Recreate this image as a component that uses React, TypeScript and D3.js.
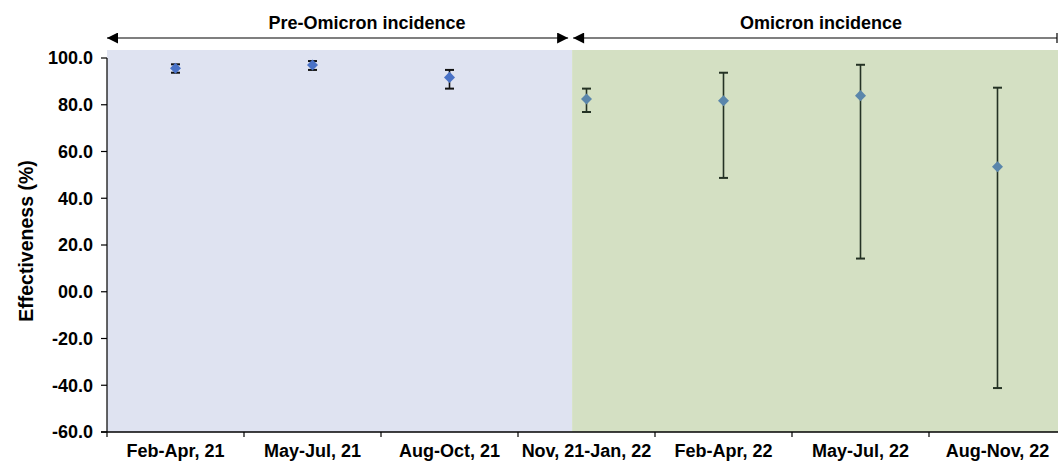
import * as d3 from "d3";
import { useEffect, useRef } from "react";

const categories = [
  "Feb-Apr, 21",
  "May-Jul, 21",
  "Aug-Oct, 21",
  "Nov, 21-Jan, 22",
  "Feb-Apr, 22",
  "May-Jul, 22",
  "Aug-Nov, 22",
];
const effectiveness = [95.6, 97.0, 91.7, 82.5, 81.7, 83.9, 53.5];
const lowerCI = [93.7, 94.9, 86.9, 76.9, 48.7, 14.2, -41.2];
const upperCI = [97.3, 98.7, 94.9, 86.9, 93.7, 97.1, 87.3];
const periods = ["Pre-Omicron", "Pre-Omicron", "Pre-Omicron", "Omicron", "Omicron", "Omicron", "Omicron"];
const yTicks = [100, 80, 60, 40, 20, 0, -20, -40, -60];
const yTickLabels = ["100.0", "80.0", "60.0", "40.0", "20.0", "00.0", "-20.0", "-40.0", "-60.0"];
const phaseNames = ["Pre-Omicron incidence", "Omicron incidence"];
const phaseBounds = [0, 3.395, 7]; // in category units
const phaseFills = ["#dfe3f1", "#d4e0c3"];

const W = 1058;
const H = 464;
const FONT = "'Liberation Sans', Arial, sans-serif";

export default function App() {
  const ref = useRef<SVGSVGElement | null>(null);

  useEffect(() => {
    if (!ref.current) return;
    const svg = d3.select(ref.current);
    svg.selectAll("*").remove();

    const left = 107;
    const right = 1066; // chart continues past the window edge
    const top = 58;
    const bottom = 432;

    const y = d3.scaleLinear().domain([-60, 100]).range([bottom, top]);
    const x = d3.scaleBand<string>().domain(categories).range([left, right]).padding(0);
    const xLin = d3.scaleLinear().domain([0, 7]).range([left, right]);

    const defs = svg.append("defs");
    defs
      .append("marker")
      .attr("id", "arrow")
      .attr("viewBox", "0 0 10 10")
      .attr("refX", 10)
      .attr("refY", 5)
      .attr("markerWidth", 14)
      .attr("markerHeight", 11)
      .attr("markerUnits", "userSpaceOnUse")
      .attr("orient", "auto-start-reverse")
      .append("path")
      .attr("d", "M0,0L10,5L0,10Z")
      .attr("fill", "#000");

    // shaded phases
    svg
      .append("g")
      .selectAll("rect")
      .data(phaseNames)
      .enter()
      .append("rect")
      .attr("x", (_, i) => xLin(phaseBounds[i]))
      .attr("y", 50)
      .attr("width", (_, i) => xLin(phaseBounds[i + 1]) - xLin(phaseBounds[i]))
      .attr("height", bottom - 50)
      .attr("fill", (_, i) => phaseFills[i]);

    // phase arrows and labels
    const arrowY = 38;
    const phaseG = svg.append("g");
    phaseNames.forEach((name, i) => {
      const x0 = xLin(phaseBounds[i]);
      const x1 = Math.min(xLin(phaseBounds[i + 1]), W - 1);
      const line = phaseG
        .append("line")
        .attr("x1", i === 0 ? x0 : x0 + 1)
        .attr("x2", i === 0 ? x1 - 4 : x1)
        .attr("y1", arrowY)
        .attr("y2", arrowY)
        .attr("stroke", "#000")
        .attr("stroke-width", 1.2)
        .attr("marker-start", "url(#arrow)");
      if (i === 0) line.attr("marker-end", "url(#arrow)");
      else
        phaseG
          .append("line")
          .attr("x1", x1)
          .attr("x2", x1)
          .attr("y1", arrowY - 5)
          .attr("y2", arrowY + 5)
          .attr("stroke", "#000")
          .attr("stroke-width", 1.2);
      phaseG
        .append("text")
        .attr("x", i === 0 ? 367 : 821)
        .attr("y", 29)
        .attr("text-anchor", "middle")
        .attr("font-family", FONT)
        .attr("font-weight", "bold")
        .attr("font-size", 18)
        .text(name);
    });

    // y axis
    const yAxis = svg.append("g");
    yAxis
      .append("line")
      .attr("x1", left)
      .attr("x2", left)
      .attr("y1", top)
      .attr("y2", bottom)
      .attr("stroke", "#000")
      .attr("stroke-width", 1.2);
    yTicks.forEach((t, i) => {
      yAxis
        .append("line")
        .attr("x1", left - 6)
        .attr("x2", left)
        .attr("y1", y(t))
        .attr("y2", y(t))
        .attr("stroke", "#000")
        .attr("stroke-width", 1.2);
      yAxis
        .append("text")
        .attr("x", 93)
        .attr("y", y(t))
        .attr("dy", "0.35em")
        .attr("text-anchor", "end")
        .attr("font-family", FONT)
        .attr("font-weight", "bold")
        .attr("font-size", 18)
        .text(yTickLabels[i]);
    });
    svg
      .append("text")
      .attr("transform", `translate(26,${(top + bottom) / 2 - 4}) rotate(-90)`)
      .attr("dy", "0.35em")
      .attr("text-anchor", "middle")
      .attr("font-family", FONT)
      .attr("font-weight", "bold")
      .attr("font-size", 19.5)
      .text("Effectiveness (%)");

    // x axis
    const xAxis = svg.append("g");
    xAxis
      .append("line")
      .attr("x1", left - 6)
      .attr("x2", W)
      .attr("y1", bottom)
      .attr("y2", bottom)
      .attr("stroke", "#000")
      .attr("stroke-width", 1.5);
    categories.forEach((c) => {
      const bx = x(c)!;
      xAxis
        .append("line")
        .attr("x1", bx)
        .attr("x2", bx)
        .attr("y1", bottom)
        .attr("y2", bottom + 5)
        .attr("stroke", "#000")
        .attr("stroke-width", 1.2);
      xAxis
        .append("text")
        .attr("x", bx + x.bandwidth() / 2)
        .attr("y", 457)
        .attr("text-anchor", "middle")
        .attr("font-family", FONT)
        .attr("font-weight", "bold")
        .attr("font-size", 18)
        .text(c);
    });

    // error bars
    const cap = 4.5;
    const eb = svg.append("g");
    categories.forEach((c, i) => {
      const cx = x(c)! + x.bandwidth() / 2;
      const col = periods[i] === "Omicron" ? "#243224" : "#111";
      eb.append("line")
        .attr("x1", cx)
        .attr("x2", cx)
        .attr("y1", y(upperCI[i]))
        .attr("y2", y(lowerCI[i]))
        .attr("stroke", col)
        .attr("stroke-width", 1.6);
      [upperCI[i], lowerCI[i]].forEach((v) => {
        eb.append("line")
          .attr("x1", cx - cap)
          .attr("x2", cx + cap)
          .attr("y1", y(v))
          .attr("y2", y(v))
          .attr("stroke", col)
          .attr("stroke-width", 2);
      });
    });

    // diamonds
    const diamond = d3.symbol().type(d3.symbolDiamond2).size(78);
    svg
      .append("g")
      .selectAll("path")
      .data(categories)
      .enter()
      .append("path")
      .attr("d", diamond)
      .attr("transform", (c, i) => `translate(${x(c)! + x.bandwidth() / 2},${y(effectiveness[i])})`)
      .attr("fill", (_, i) => (periods[i] === "Omicron" ? "#5a86ab" : "#4a72c6"));
  }, []);

  return (
    <svg
      ref={ref}
      width={W}
      height={H}
      style={{ position: "absolute", left: 0, top: 0, background: "#fff" }}
    />
  );
}
